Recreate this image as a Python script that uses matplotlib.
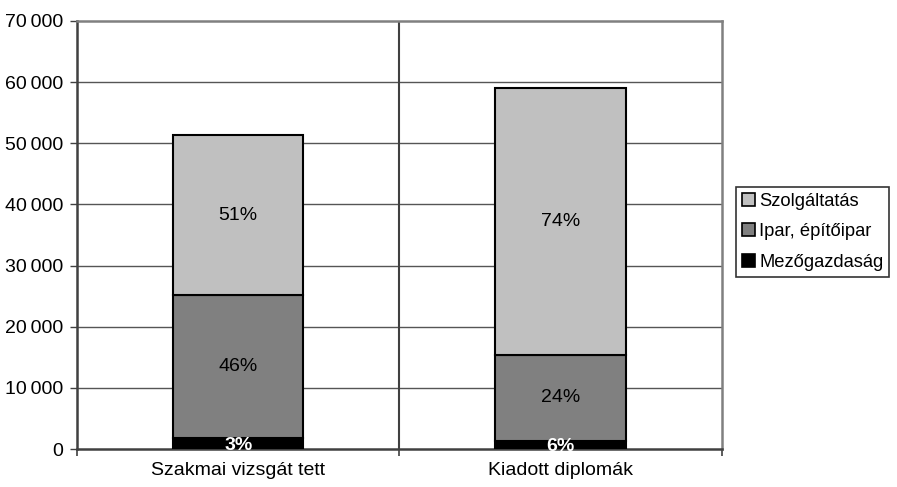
import matplotlib
from matplotlib import pyplot as plt
from matplotlib.patches import Patch

matplotlib.use("agg")
plt.rcParams["font.family"] = ["Liberation Sans", "DejaVu Sans"]

categories = ["Szakmai vizsgát tett", "Kiadott diplomák"]
series_names = ["Mezőgazdaság", "Ipar, építőipar", "Szolgáltatás"]
mezogazdasag = [1800, 1350]
ipar = [23400, 14000]
szolgaltatas = [26100, 43700]
pct_labels = [["3%", "6%"], ["46%", "24%"], ["51%", "74%"]]
yticks = [0, 10000, 20000, 30000, 40000, 50000, 60000, 70000]

colors = ["#000000", "#808080", "#C0C0C0"]
text_colors = ["white", "black", "black"]
fs = 14

fig = plt.figure(figsize=(8.97, 4.87), dpi=100)
ax = fig.add_axes([0.0858, 0.078, 0.719, 0.879])

x = [0, 1]
bottom = [0, 0]
for vals, col, tcol, labs, name in zip([mezogazdasag, ipar, szolgaltatas], colors, text_colors, pct_labels, series_names):
    ax.bar(x, vals, width=0.405, bottom=bottom, color=col, edgecolor="black", linewidth=1.5, label=name, zorder=3)
    for xi, v, b, lab in zip(x, vals, bottom, labs):
        if col == "#000000":
            # small segment: label sits a bit low, over the axis line
            ax.text(xi, b + v / 2 - 300, lab, ha="center", va="center", color=tcol, fontsize=fs, fontweight="bold", zorder=4)
        else:
            ax.text(xi, b + v / 2, lab, ha="center", va="center", color=tcol, fontsize=fs, zorder=4)
    bottom = [b + v for b, v in zip(bottom, vals)]

ax.set_xlim(-0.5, 1.5)
ax.set_ylim(0, 70000)
ax.set_yticks(yticks)
ax.set_yticklabels([f"{t:,}".replace(",", "\u2009") for t in yticks], fontsize=fs)
ax.set_xticks(x)
ax.set_xticklabels(categories, fontsize=fs)
ax.tick_params(axis="x", length=0, pad=9)
ax.set_xticks([-0.5, 0.5, 1.5], minor=True)
ax.tick_params(axis="x", which="minor", length=5, width=1.2, color="#404040")
ax.tick_params(axis="y", length=5, width=1.0, color="#404040", pad=5)

for t in yticks[1:-1]:
    ax.axhline(t, color="#555555", linewidth=1.0, zorder=1)
ax.axvline(0.5, color="#404040", linewidth=1.5, zorder=1)

for s in ["top", "right"]:
    ax.spines[s].set_color("#808080")
    ax.spines[s].set_linewidth(1.8)
for s in ["left", "bottom"]:
    ax.spines[s].set_color("#404040")
    ax.spines[s].set_linewidth(1.8)

handles = [Patch(facecolor=c, edgecolor="black", linewidth=1.2) for c in colors[::-1]]
leg = fig.legend(handles, series_names[::-1], loc="center left", bbox_to_anchor=(0.821, 0.524),
                 fontsize=13.2, frameon=True, fancybox=False, edgecolor="black",
                 handlelength=0.7, handleheight=0.7, handletextpad=0.25, borderpad=0.3, labelspacing=0.75,
                 borderaxespad=0)
leg.get_frame().set_linewidth(1.2)

plt.savefig("out.png", dpi=100)
